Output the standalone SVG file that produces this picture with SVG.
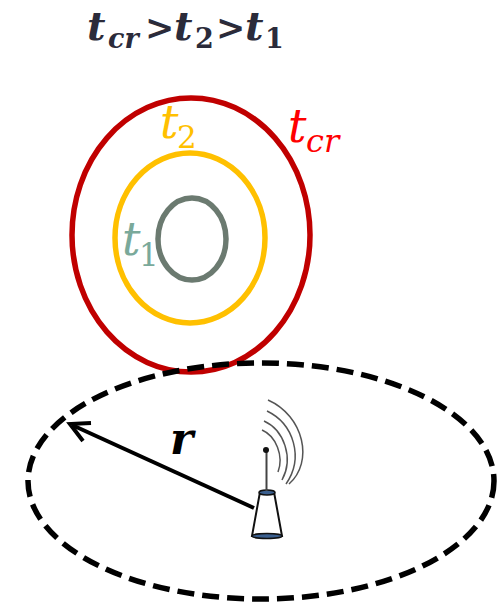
<svg xmlns="http://www.w3.org/2000/svg" width="497" height="605" viewBox="0 0 497 605">
<style>
.ring{fill:none}
text{font-family:"DejaVu Serif","Liberation Serif",serif;font-style:italic}
.b{font-weight:bold;fill:#2b2b3a}
.u{font-style:normal}
.arc{fill:none;stroke:#555;stroke-width:1.500}
</style>
<rect width="497" height="605" fill="#fff"/>
<g id="title">
<text class="b" font-size="40" x="87" y="40">t</text>
<text class="b" font-size="27" x="108" y="48">cr</text>
<text class="b u" font-size="35" x="145" y="40">&gt;</text>
<text class="b" font-size="40" x="174" y="40">t</text>
<text class="b u" font-size="27" x="195" y="48">2</text>
<text class="b u" font-size="35" x="216" y="40">&gt;</text>
<text class="b" font-size="40" x="245" y="40">t</text>
<text class="b u" font-size="27" x="265" y="48">1</text>
</g>
<g id="ring-tcr"><ellipse class="ring" cx="191" cy="235" rx="119" ry="137" stroke="#c00000" stroke-width="5.500"/>
<text font-size="46" x="288" y="142" fill="#ff0000">t</text><text font-size="32" x="306" y="152" fill="#ff0000">cr</text></g>
<g id="ring-t2"><ellipse class="ring" cx="190" cy="238" rx="75" ry="85" stroke="#ffc000" stroke-width="5.500"/>
<text font-size="46" x="160" y="138" fill="#ffc000">t</text><text font-size="31" x="177" y="148" fill="#ffc000" class="u">2</text></g>
<g id="ring-t1"><ellipse class="ring" cx="192" cy="239" rx="34" ry="41" stroke="#6b7a70" stroke-width="5.500"/>
<text font-size="46" x="122" y="255" fill="#7aa99a">t</text><text font-size="31" x="139" y="266" fill="#7aa99a" class="u">1</text></g>
<g id="coverage"><ellipse cx="261" cy="481" rx="233" ry="118" fill="none" stroke="#000" stroke-width="5.500" stroke-dasharray="17 8"/></g>
<g id="connectors">
<path d="M254 508L72 425" fill="none" stroke="#000" stroke-width="4"/>
<path d="M91 423L70 424L83 441" fill="none" stroke="#000" stroke-width="4"/>
</g>
<g id="label-r"><text class="b" style="fill:#000" font-size="44" x="170" y="454">r</text></g>
<g id="tower">
<path d="M260 492L274 492L282 536L252 536Z" fill="#fff" stroke="#111" stroke-width="2"/>
<ellipse cx="267" cy="492.500" rx="8" ry="2.500" fill="#3a5f8f" stroke="#111" stroke-width="1.500"/>
<ellipse cx="267" cy="536" rx="15" ry="2.500" fill="#3a5f8f" stroke="#111" stroke-width="1.500"/>
<path d="M266.500 452V491" stroke="#444" stroke-width="2"/>
<circle cx="266" cy="450" r="3" fill="#111"/>
<path class="arc" d="M262 430C276 436 284 456 278 472"/>
<path class="arc" d="M264 421C284 430 294 458 282 480"/>
<path class="arc" d="M267 411C294 424 304 458 286 484"/>
<path class="arc" d="M268 400C304 416 314 462 289 484"/>
</g>
</svg>
